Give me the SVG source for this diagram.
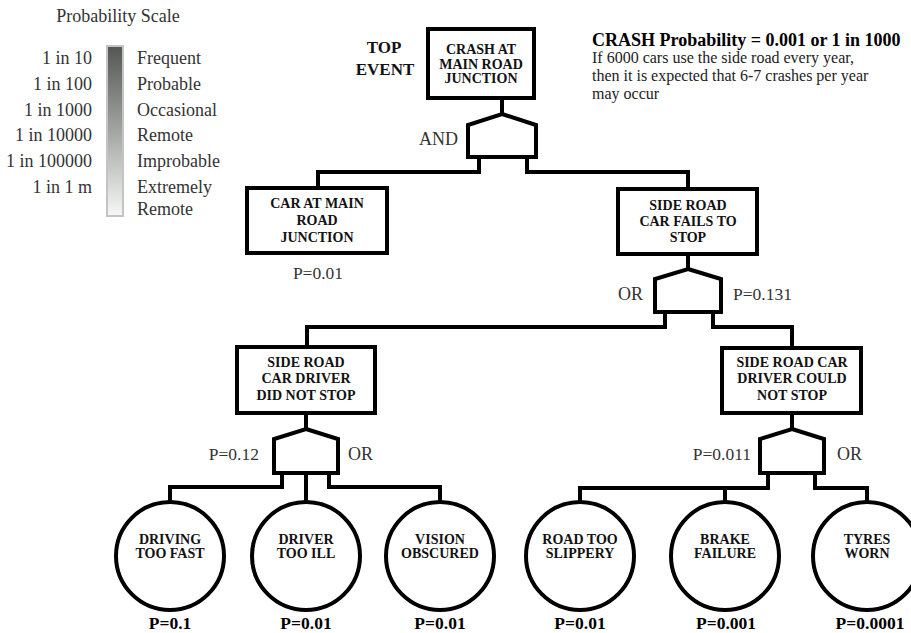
<svg xmlns="http://www.w3.org/2000/svg" width="911" height="633" viewBox="0 0 911 633">
<defs>
<linearGradient id="scale" x1="0" y1="0" x2="0" y2="1">
<stop offset="0" stop-color="#535653"/>
<stop offset="0.45" stop-color="#9a9d9a"/>
<stop offset="1" stop-color="#f6f8f6"/>
</linearGradient>
</defs>
<style>
text{font-family:"Liberation Serif","Times New Roman",serif}
.lbl{font-size:18px;fill:#333}
.box{fill:#fff;stroke:#000;stroke-width:4}
.gate{fill:#fff;stroke:#000;stroke-width:4;stroke-linejoin:miter}
.bt{font-size:14px;font-weight:bold;text-anchor:middle;fill:#111}
.ct{font-size:14px;font-weight:bold;text-anchor:middle;fill:#111}
.pb{font-size:17.5px;font-weight:bold;text-anchor:middle;fill:#000}
.pr{font-size:17.5px;fill:#333}
.con{fill:none;stroke:#000;stroke-width:4;stroke-linejoin:miter}
</style>
<rect width="911" height="633" fill="#fff"/>

<g id="legend">
<text x="118" y="22" class="lbl" text-anchor="middle">Probability Scale</text>
<rect x="107" y="46" width="16" height="170" fill="url(#scale)" stroke="#c4c4c4" stroke-width="2"/>
<g text-anchor="end">
<text x="92" y="64" class="lbl">1 in 10</text>
<text x="92" y="90" class="lbl">1 in 100</text>
<text x="92" y="116" class="lbl">1 in 1000</text>
<text x="92" y="141" class="lbl">1 in 10000</text>
<text x="92" y="167" class="lbl">1 in 100000</text>
<text x="92" y="193" class="lbl">1 in 1 m</text>
</g>
<text x="137" y="64" class="lbl">Frequent</text>
<text x="137" y="90" class="lbl">Probable</text>
<text x="137" y="116" class="lbl">Occasional</text>
<text x="137" y="141" class="lbl">Remote</text>
<text x="137" y="167" class="lbl">Improbable</text>
<text x="137" y="193" class="lbl">Extremely</text>
<text x="137" y="215" class="lbl">Remote</text>
</g>

<g id="note">
<text x="592" y="46" font-size="18" font-weight="bold" fill="#000">CRASH Probability = 0.001 or 1 in 1000</text>
<text x="592" y="63" font-size="16" fill="#222">If 6000 cars use the side road every year,</text>
<text x="592" y="81" font-size="16" fill="#222">then it is expected that 6-7 crashes per year</text>
<text x="592" y="99" font-size="16" fill="#222">may occur</text>
</g>

<g id="connectors">
<path class="con" d="M502,98 V116"/>
<path class="con" d="M479,157 V172 H318 V188"/>
<path class="con" d="M527,157 V172 H688 V189"/>
<path class="con" d="M688,254 V271"/>
<path class="con" d="M665,312 V327 H307 V347"/>
<path class="con" d="M713,312 V327 H792 V348"/>
<path class="con" d="M306,413 V431"/>
<path class="con" d="M792,413 V431"/>
<path class="con" d="M282,473 V487 H170 V501"/>
<path class="con" d="M306,473 V501"/>
<path class="con" d="M329,473 V487 H440 V501"/>
<path class="con" d="M768,473 V488 H580 V501"/>
<path class="con" d="M725,488 V501"/>
<path class="con" d="M815,473 V488 H867 V501"/>
</g>

<g id="top-event">
<text x="384" y="53" font-size="17" font-weight="bold" text-anchor="middle" fill="#111">TOP</text>
<text x="385" y="75" font-size="17" font-weight="bold" text-anchor="middle" fill="#111">EVENT</text>
<rect class="box" x="428" y="29" width="106" height="69"/>
<text class="bt" x="481" y="54">CRASH AT</text>
<text class="bt" x="481" y="68.5">MAIN ROAD</text>
<text class="bt" x="481" y="83">JUNCTION</text>
</g>

<g id="gate-and">
<path class="gate" d="M502,114 L536,125 V157 H468 V125 Z"/>
<text x="458" y="145" class="lbl" text-anchor="end">AND</text>
</g>

<g id="car-at-junction">
<rect class="box" x="247" y="188" width="140" height="65"/>
<text class="bt" x="317" y="208">CAR AT MAIN</text>
<text class="bt" x="317" y="225">ROAD</text>
<text class="bt" x="317" y="242">JUNCTION</text>
<text class="pr" x="318" y="279" text-anchor="middle">P=0.01</text>
</g>

<g id="fails-to-stop">
<rect class="box" x="618" y="189" width="139" height="65"/>
<text class="bt" x="688" y="210">SIDE ROAD</text>
<text class="bt" x="688" y="226">CAR FAILS TO</text>
<text class="bt" x="688" y="242">STOP</text>
</g>

<g id="gate-or-1">
<path class="gate" d="M688,269 L721,279 V312 H655 V279 Z"/>
<text x="643" y="300" class="lbl" text-anchor="end">OR</text>
<text x="733" y="300" class="pr">P=0.131</text>
</g>

<g id="did-not-stop">
<rect class="box" x="237" y="347" width="138" height="66"/>
<text class="bt" x="306" y="367">SIDE ROAD</text>
<text class="bt" x="306" y="383">CAR DRIVER</text>
<text class="bt" x="306" y="400">DID NOT STOP</text>
</g>

<g id="gate-or-2">
<path class="gate" d="M306,429 L338,439 V473 H274 V439 Z"/>
<text x="259" y="460" class="pr" text-anchor="end">P=0.12</text>
<text x="348" y="460" class="lbl">OR</text>
</g>

<g id="could-not-stop">
<rect class="box" x="722" y="348" width="139" height="65"/>
<text class="bt" x="792" y="367">SIDE ROAD CAR</text>
<text class="bt" x="792" y="383">DRIVER COULD</text>
<text class="bt" x="792" y="400">NOT STOP</text>
</g>

<g id="gate-or-3">
<path class="gate" d="M792,429 L824,439 V473 H760 V439 Z"/>
<text x="751" y="460" class="pr" text-anchor="end">P=0.011</text>
<text x="837" y="460" class="lbl">OR</text>
</g>

<g id="driving-too-fast">
<circle class="box" cx="170" cy="556" r="54"/>
<text class="ct" x="170" y="543.5">DRIVING</text>
<text class="ct" x="170" y="558">TOO FAST</text>
<text class="pb" x="170" y="629">P=0.1</text>
</g>
<g id="driver-too-ill">
<circle class="box" cx="306" cy="556" r="54"/>
<text class="ct" x="306" y="543.5">DRIVER</text>
<text class="ct" x="306" y="558">TOO ILL</text>
<text class="pb" x="306" y="629">P=0.01</text>
</g>
<g id="vision-obscured">
<circle class="box" cx="440" cy="556" r="54"/>
<text class="ct" x="440" y="543.5">VISION</text>
<text class="ct" x="440" y="558">OBSCURED</text>
<text class="pb" x="440" y="629">P=0.01</text>
</g>
<g id="road-too-slippery">
<circle class="box" cx="580" cy="556" r="54"/>
<text class="ct" x="580" y="543.5">ROAD TOO</text>
<text class="ct" x="580" y="558">SLIPPERY</text>
<text class="pb" x="580" y="629">P=0.01</text>
</g>
<g id="brake-failure">
<circle class="box" cx="725" cy="556" r="54"/>
<text class="ct" x="725" y="543.5">BRAKE</text>
<text class="ct" x="725" y="558">FAILURE</text>
<text class="pb" x="726" y="629">P=0.001</text>
</g>
<g id="tyres-worn">
<circle class="box" cx="867" cy="556" r="54"/>
<text class="ct" x="867" y="543.5">TYRES</text>
<text class="ct" x="867" y="558">WORN</text>
<text class="pb" x="870" y="629">P=0.0001</text>
</g>
</svg>
